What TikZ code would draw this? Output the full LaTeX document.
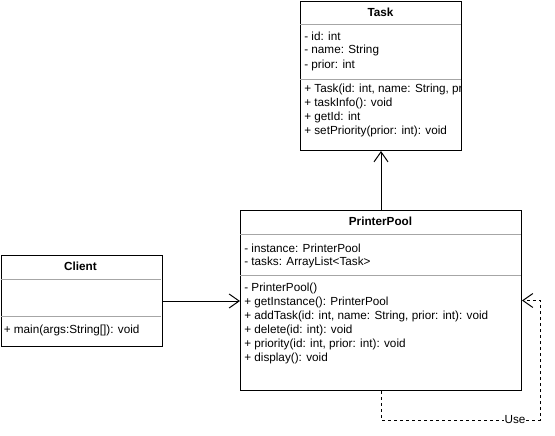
\documentclass[tikz,border=0pt]{standalone}
\usepackage{fontspec}
\setmainfont{Liberation Sans}
\usetikzlibrary{arrows.meta}
\begin{document}
\begin{tikzpicture}[x=0.75pt,y=-0.75pt,
 box/.style={draw, line width=0.75pt, inner sep=0pt, anchor=north west},
 sepline/.style={draw=gray!70, line width=0.75pt},
 txt/.style={anchor=west, inner sep=0pt, font=\fontsize{8.8pt}{10pt}\selectfont},
 ttl/.style={inner sep=0pt, font=\fontsize{8.8pt}{10pt}\selectfont\bfseries},
 arr/.style={-{Straight Barb[length=7.5pt,width=10.5pt]}, line width=0.75pt},
 usedash/.style={dash pattern=on 2.25pt off 2.25pt},
]
\useasboundingbox (0,0) rectangle (555,435);

% Task
\node[box, minimum width=120.75pt, minimum height=111.75pt] (task) at (300,1) {};
\node[ttl] (taskttl) at (380.5,12) {Task};
\draw[sepline] (300,25) -- (461,25);
\draw[sepline] (300,79) -- (461,79);
\node[txt] (t1) at (304,36) {- id: int};
\node[txt] (t2) at (304,50.5) {- name: String};
\node[txt] (t3) at (304,65) {- prior: int};
\begin{scope}
\clip (300,80) rectangle (460.5,150);
\node[txt] (t4) at (304,89.5) {+ Task(id: int, name: String, prior: int)};
\end{scope}
\node[txt] (t5) at (304,103.5) {+ taskInfo(): void};
\node[txt] (t6) at (304,117.5) {+ getId: int};
\node[txt] (t7) at (304,131.5) {+ setPriority(prior: int): void};

% PrinterPool
\node[box, minimum width=210.75pt, minimum height=135pt] (pp) at (240,210) {};
\node[ttl] (ppttl) at (380.5,221) {PrinterPool};
\draw[sepline] (240,234) -- (521,234);
\draw[sepline] (240,275) -- (521,275);
\node[txt] (p1) at (244,248) {- instance: PrinterPool};
\node[txt] (p2) at (244,262) {- tasks: ArrayList<Task>};
\node[txt] (p3) at (244,288.5) {- PrinterPool()};
\node[txt] (p4) at (244,302.5) {+ getInstance(): PrinterPool};
\node[txt] (p5) at (244,316.5) {+ addTask(id: int, name: String, prior: int): void};
\node[txt] (p6) at (244,330.5) {+ delete(id: int): void};
\node[txt] (p7) at (244,344.5) {+ priority(id: int, prior: int): void};
\node[txt] (p8) at (244,358.5) {+ display(): void};

% Client
\node[box, minimum width=120.75pt, minimum height=68.25pt] (client) at (0.5,255) {};
\node[ttl] (clttl) at (80.5,266) {Client};
\draw[sepline] (0.5,279) -- (161,279);
\draw[sepline] (0.5,316) -- (161,316);
\node[txt] (c1) at (3.5,330) {+ main(args:String[]): void};

% connectors
\draw[arr] (pp.north) -- (task.south);
\draw[arr] (client.east) -- (client.east -| pp.west);
\coordinate (lc) at (540,420);
\draw[arr, usedash] (pp.south) |- (lc) |- (pp.east);
\node[fill=white, inner sep=0.5pt, font=\fontsize{8.8pt}{10pt}\selectfont] (use) at (515,420) {Use};
\end{tikzpicture}
\end{document}
